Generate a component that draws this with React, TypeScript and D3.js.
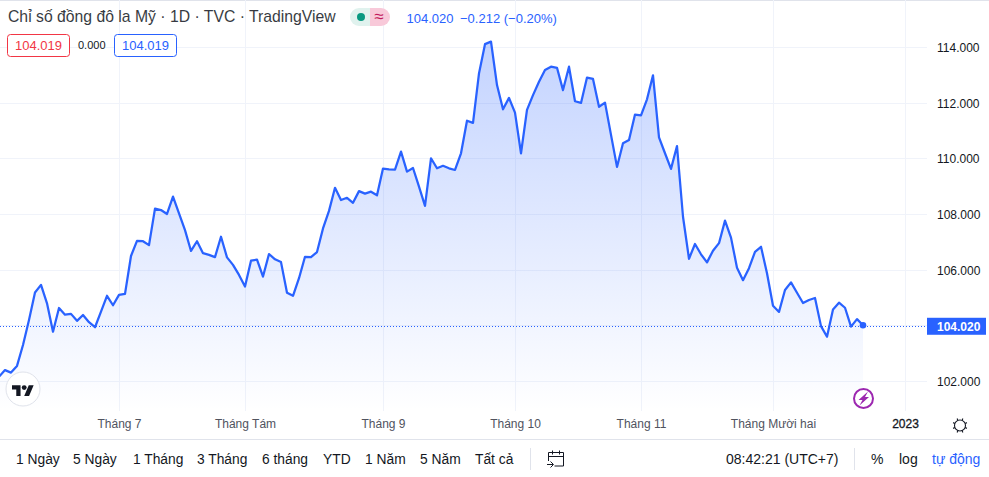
import { useEffect, useRef } from 'react';
import * as d3 from 'd3';

// daily closes (first one sits just left of the frame)
const closes = [
  102.17, 102.41, 102.32, 102.56, 103.31, 104.21, 105.2, 105.47, 104.81, 103.79,
  104.64, 104.4, 104.43, 104.18, 104.39, 104.13, 103.95, 104.51, 105.08, 104.74,
  105.11, 105.15, 106.51, 107.05, 107.04, 106.9, 108.21, 108.16, 108.02, 108.64,
  108.04, 107.44, 106.69, 107.04, 106.61, 106.55, 106.47, 107.2, 106.46, 106.19,
  105.83, 105.41, 106.34, 106.38, 105.77, 106.58, 106.39, 106.29, 105.19, 105.08,
  105.71, 106.48, 106.47, 106.65, 107.5, 108.13, 108.96, 108.52, 108.6, 108.42,
  108.84, 108.75, 108.82, 108.69, 109.65, 109.62, 109.61, 110.26, 109.54, 109.67,
  109.0, 108.31, 110.02, 109.66, 109.75, 109.66, 109.6, 110.2, 111.37, 111.29,
  113.07, 114.12, 114.21, 112.65, 111.78, 112.19, 111.66, 110.2, 111.76, 112.29,
  112.77, 113.19, 113.31, 113.27, 112.47, 113.31, 112.07, 112.01, 112.92, 112.87,
  111.87, 112.02, 110.86, 109.71, 110.56, 110.68, 111.59, 111.56, 112.14, 113.0,
  110.77, 110.2, 109.64, 110.46, 107.92, 106.41, 106.94, 106.57, 106.28, 106.7,
  106.97, 107.78, 107.17, 106.09, 105.64, 106.07, 106.66, 106.84, 105.89, 104.72,
  104.5, 105.29, 105.56, 105.19, 104.82, 104.93, 105.0, 103.99, 103.61, 104.59,
  104.83, 104.65, 103.97, 104.24, 104.02,
];
const lastPrice = 104.02;
const priceTicks = [102, 104, 106, 108, 110, 112, 114];
const monthLabels = ['Tháng 7', 'Tháng Tám', 'Tháng 9', 'Tháng 10', 'Tháng 11', 'Tháng Mười hai', '2023'];
const monthBars = [20, 41, 64, 86, 107, 129, 151];
const rangeLabels = ['1 Ngày', '5 Ngày', '1 Tháng', '3 Tháng', '6 tháng', 'YTD', '1 Năm', '5 Năm', 'Tất cả'];
const rangeStarts = [16, 73, 133, 197, 262, 323, 365, 420, 475];

const BLUE = '#2962ff';
const FONT = '"Liberation Sans", Arial, sans-serif';

const App = () => {
  const svgRef = useRef<SVGSVGElement>(null);

  useEffect(() => {
    const svg = d3.select(svgRef.current);
    svg.selectAll('*').remove();

    const plotW = 927;
    const plotB = 411;
    const x = d3.scaleLinear().domain([0, 151]).range([-1, 905]);
    const y = d3.scaleLinear().domain([102, 114]).range([381.5, 47.5]);

    const grad = svg.append('defs').append('linearGradient')
      .attr('id', 'areaFill').attr('gradientUnits', 'userSpaceOnUse')
      .attr('x1', 0).attr('x2', 0).attr('y1', 41).attr('y2', plotB);
    grad.append('stop').attr('offset', 0).attr('stop-color', BLUE).attr('stop-opacity', 0.28);
    grad.append('stop').attr('offset', 1).attr('stop-color', BLUE).attr('stop-opacity', 0);

    svg.append('rect').attr('width', 989).attr('height', 1).attr('fill', '#e0e3eb');

    // grid
    svg.append('g').selectAll('line').data(priceTicks).join('line')
      .attr('x1', 0).attr('x2', plotW)
      .attr('y1', d => Math.floor(y(d)) + 0.5).attr('y2', d => Math.floor(y(d)) + 0.5)
      .attr('stroke', '#f0f3fa');
    svg.append('g').selectAll('line').data(monthBars).join('line')
      .attr('x1', d => Math.round(x(d)) + 0.5).attr('x2', d => Math.round(x(d)) + 0.5)
      .attr('y1', 0).attr('y2', plotB)
      .attr('stroke', '#f0f3fa');

    // area + line
    const area = d3.area<number>().x((_, i) => x(i)).y0(plotB).y1(d => y(d));
    const line = d3.line<number>().x((_, i) => x(i)).y(d => y(d));
    svg.append('path').attr('d', area(closes)).attr('fill', 'url(#areaFill)');
    svg.append('path').attr('d', line(closes)).attr('fill', 'none')
      .attr('stroke', BLUE).attr('stroke-width', 2.25).attr('stroke-linejoin', 'round');

    // last price
    const lastY = Math.round(y(lastPrice)) + 0.5;
    svg.append('line').attr('x1', 0).attr('x2', plotW).attr('y1', lastY + 1).attr('y2', lastY + 1)
      .attr('stroke', BLUE).attr('stroke-dasharray', '1 2');
    svg.append('circle').attr('cx', x(closes.length - 1)).attr('cy', y(lastPrice)).attr('r', 3.3).attr('fill', BLUE);

    // price axis
    const yAxis = svg.append('g').attr('transform', 'translate(937,0)')
      .call(d3.axisRight(y).tickValues(priceTicks).tickFormat(d3.format('.3f') as any).tickSize(0).tickPadding(0));
    yAxis.select('.domain').remove();
    yAxis.selectAll('text').attr('font-family', FONT).attr('font-size', 12).attr('fill', '#131722');

    svg.append('rect').attr('x', plotW).attr('y', y(lastPrice) - 7.5).attr('width', 59).attr('height', 17).attr('fill', BLUE);
    svg.append('text').attr('x', 937).attr('y', y(lastPrice) + 5.5).text(d3.format('.3f')(lastPrice))
      .attr('font-family', FONT).attr('font-size', 12).attr('font-weight', 700).attr('fill', '#fff');

    // time axis
    const monthOf = d3.scaleOrdinal<number, string>().domain(monthBars).range(monthLabels);
    const xAxis = svg.append('g').attr('transform', 'translate(0,419)')
      .call(d3.axisBottom(x).tickValues(monthBars).tickFormat(d => monthOf(d as number)).tickSize(0).tickPadding(0));
    xAxis.select('.domain').remove();
    xAxis.selectAll('text').attr('font-family', FONT).attr('font-size', 12)
      .attr('fill', d => (d === 151 ? '#131722' : '#50535e'))
      .attr('stroke', d => (d === 151 ? '#131722' : 'none'))
      .attr('stroke-width', 0.3);

    svg.append('line').attr('x1', 0).attr('x2', 989).attr('y1', 439.5).attr('y2', 439.5).attr('stroke', '#e0e3eb');

    // header
    const txt = (tx: number, ty: number, s: string, size: number, fill: string) =>
      svg.append('text').attr('x', tx).attr('y', ty).text(s)
        .attr('font-family', FONT).attr('font-size', size).attr('fill', fill);

    txt(8, 22, 'Chỉ số đồng đô la Mỹ · 1D · TVC · TradingView', 15.75, '#131722').attr('opacity', 0.85);
    svg.append('path').attr('d', 'M370 8h-11a9 9 0 0 0 0 18h11z').attr('fill', '#e0f2ee');
    svg.append('path').attr('d', 'M370 8h11a9 9 0 0 1 0 18h-11z').attr('fill', '#f8c9d9');
    svg.append('circle').attr('cx', 361).attr('cy', 17).attr('r', 4).attr('fill', '#089981');
    txt(379, 22, '≈', 17, '#c2185b').attr('text-anchor', 'middle');
    txt(406.5, 23, '104.020', 13, BLUE);
    txt(460, 23, '−0.212 (−0.20%)', 13, BLUE);

    const box = (bx: number, w: number, stroke: string, s: string) => {
      svg.append('rect').attr('x', bx + 0.5).attr('y', 34.5).attr('width', w).attr('height', 22).attr('rx', 3)
        .attr('fill', '#fff').attr('stroke', stroke);
      txt(bx + w / 2 + 0.5, 50, s, 13, stroke).attr('text-anchor', 'middle');
    };
    box(7, 62, '#f23645', '104.019');
    txt(78, 49, '0.000', 11, '#131722');
    box(114, 62, BLUE, '104.019');

    // logo badge
    svg.append('circle').attr('cx', 23).attr('cy', 389).attr('r', 17).attr('fill', '#fff').attr('stroke', '#e0e3eb').attr('stroke-width', 1);
    const logo = svg.append('g').attr('transform', 'translate(12,382.700) scale(0.61)').attr('fill', '#131722');
    logo.append('path').attr('d', 'M14 22H7V11H0V4h14v18zM28 22h-8l7.500-18h8L28 22z');
    logo.append('circle').attr('cx', 20).attr('cy', 8).attr('r', 4);

    // lightning badge
    svg.append('circle').attr('cx', 863.5).attr('cy', 398.5).attr('r', 9.5).attr('fill', '#fff').attr('stroke', '#9c27b0').attr('stroke-width', 2);
    svg.append('path').attr('d', 'M868 391.500l-9.500 8.500h4l-3 5.500 9.500-8.500h-4z').attr('fill', '#9c27b0');

    // settings wheel
    const gear = svg.append('g').attr('transform', 'translate(960,425.500)').attr('stroke', '#131722').attr('fill', 'none');
    gear.append('circle').attr('r', 5.5).attr('stroke-width', 1.1);
    d3.range(8).forEach(i => {
      const a = (i * Math.PI) / 4 + Math.PI / 8;
      gear.append('line').attr('x1', 5.5 * Math.cos(a)).attr('y1', 5.5 * Math.sin(a))
        .attr('x2', 7.5 * Math.cos(a)).attr('y2', 7.5 * Math.sin(a)).attr('stroke-width', 1.1);
    });

    // toolbar
    rangeLabels.forEach((s, i) => txt(rangeStarts[i], 464, s, 13.8, '#131722'));
    [530.5, 854.5].forEach(sx => {
      svg.append('line').attr('x1', sx).attr('x2', sx).attr('y1', 448).attr('y2', 470).attr('stroke', '#e0e3eb');
    });
    svg.append('path')
      .attr('d', 'M548.500 461v-8.500h15v13.500h-9M548.500 456.500h15M552.500 450.500v4M559.500 450.500v4M547 464.500h6M550.500 461.500l3 3-3 3')
      .attr('fill', 'none').attr('stroke', '#131722');
    txt(726, 464, '08:42:21 (UTC+7)', 14, '#131722');
    txt(871, 464, '%', 14, '#131722');
    txt(899, 464, 'log', 14, '#131722');
    txt(932, 464, 'tự động', 14, BLUE);
  }, []);

  return (
    <svg ref={svgRef} width={989} height={477} style={{ position: 'absolute', left: 0, top: 0, display: 'block', background: '#fff' }}></svg>
  );
};

export default App;
